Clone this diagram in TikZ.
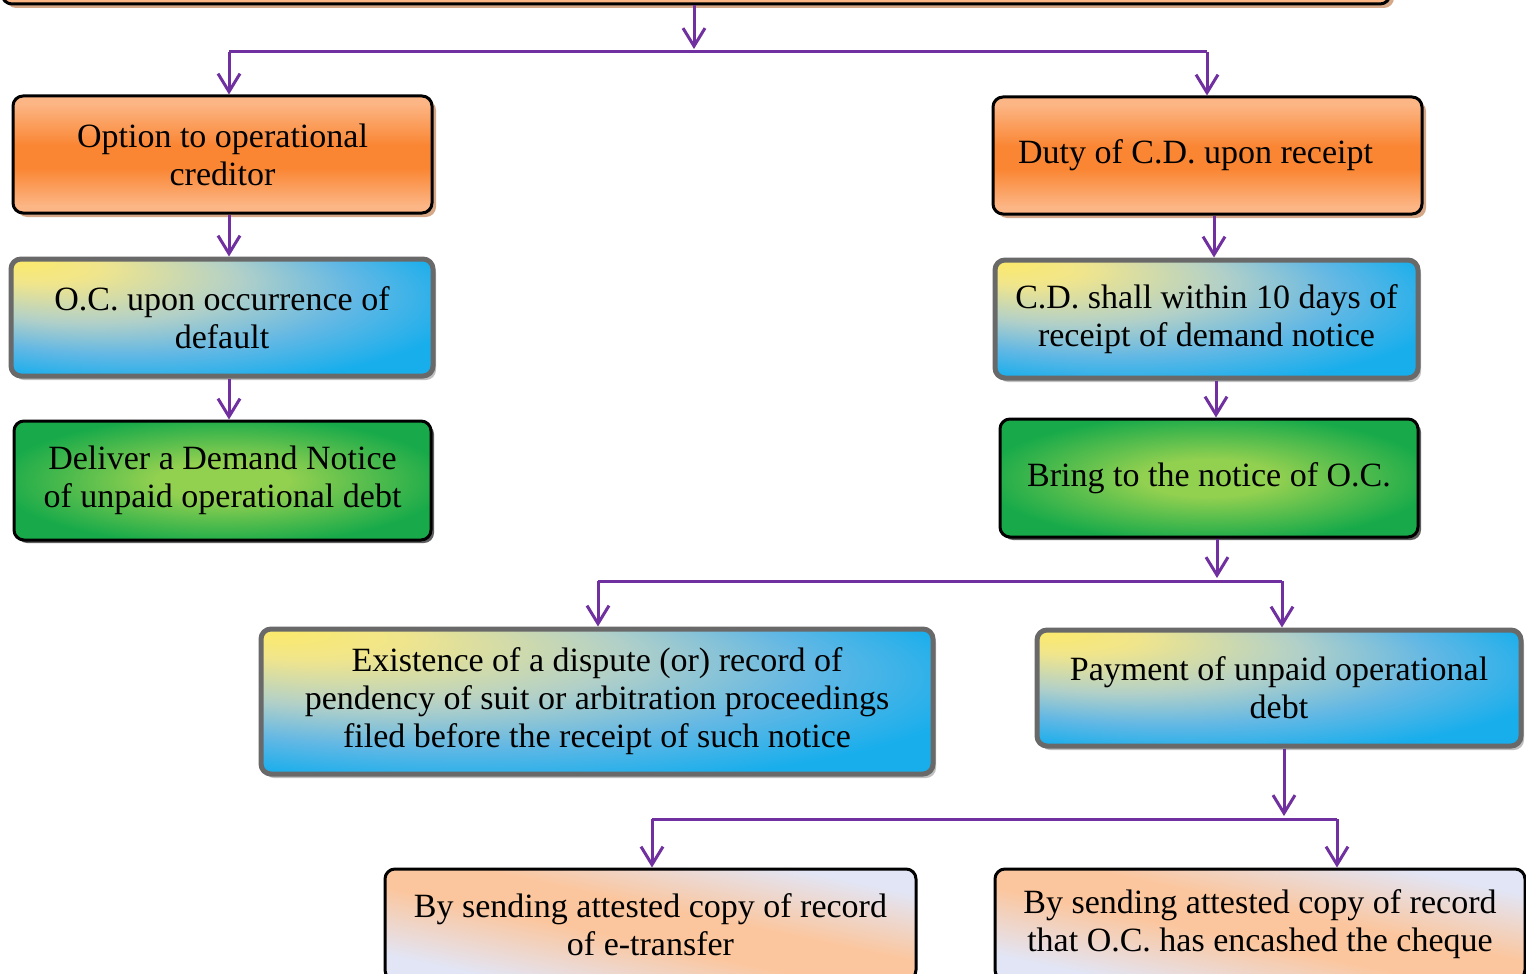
\documentclass[tikz,border=0pt]{standalone}
\usepackage{fontspec}
\setmainfont{Liberation Serif}
\usetikzlibrary{arrows.meta,shadows}

% palette
\definecolor{flowpurple}{RGB}{112,48,160}
\definecolor{orangeLight}{RGB}{252,182,134}
\definecolor{orangeDark}{RGB}{250,134,52}
\definecolor{ybYellow}{RGB}{253,234,105}
\definecolor{ybPale}{RGB}{240,229,140}
\definecolor{ybGrey}{RGB}{178,208,200}
\definecolor{ybSky}{RGB}{100,184,228}
\definecolor{ybBlue}{RGB}{24,174,236}
\definecolor{grLight}{RGB}{146,208,80}
\definecolor{grDark}{RGB}{24,170,74}
\definecolor{peach}{RGB}{251,198,158}
\definecolor{lavender}{RGB}{226,229,245}
\definecolor{frameGrey}{RGB}{105,105,105}
\definecolor{shadowBrown}{RGB}{214,168,135}
\definecolor{shadowLight}{RGB}{192,192,192}
\definecolor{shadowDark}{RGB}{95,95,95}

% fills
\pgfdeclareverticalshading{orangeband}{100bp}{color(0bp)=(orangeLight); color(28bp)=(orangeLight); color(44bp)=(orangeDark); color(54bp)=(orangeDark); color(72bp)=(orangeLight); color(100bp)=(orangeLight)}
\pgfdeclareradialshading{yellowblue}{\pgfpoint{-25bp}{25bp}}{color(0bp)=(ybYellow); color(7bp)=(ybPale); color(18bp)=(ybGrey); color(27bp)=(ybSky); color(36bp)=(ybBlue); color(50bp)=(ybBlue)}
\pgfdeclareradialshading{greenglow}{\pgfpoint{0bp}{0bp}}{color(0bp)=(grLight); color(8bp)=(grLight); color(27bp)=(grDark); color(50bp)=(grDark)}
\pgfdeclarehorizontalshading{peachlav}{100bp}{color(0bp)=(lavender); color(27bp)=(lavender); color(45bp)=(peach); color(55bp)=(peach); color(73bp)=(lavender); color(100bp)=(lavender)}

\tikzset{
  box/.style={rounded corners=5pt, align=center, inner sep=0pt,
    font=\fontsize{17}{19}\selectfont},
  orangebox/.style={box, draw=black, line width=1.5pt, shading=orangeband,
    drop shadow={shadow xshift=2pt, shadow yshift=-2pt, fill=shadowBrown, opacity=1}},
  bluebox/.style={box, draw=frameGrey, line width=2.5pt, shading=yellowblue,
    drop shadow={shadow xshift=1.5pt, shadow yshift=-2pt, fill=shadowLight, opacity=1}},
  greenbox/.style={box, draw=black, line width=1.5pt, shading=greenglow,
    drop shadow={shadow xshift=1.5pt, shadow yshift=-1.5pt, fill=shadowDark, opacity=1}},
  peachbox/.style={box, draw=black, line width=1.5pt, shading=peachlav, shading angle=78},
  link/.style={draw=flowpurple, line width=1.5pt},
  flow/.style={link, -{Straight Barb[length=9pt,width=11pt]}},
}

\begin{document}
\begin{tikzpicture}[x=0.5pt, y=-0.5pt]
\useasboundingbox (0,0) rectangle (1526,974);
\clip (0,0) rectangle (1526,974);

% boxes
\node[orangebox, minimum width=694pt, minimum height=60pt] (top) at (696,-56) {};

\node[orangebox, minimum width=209.5pt, minimum height=58.5pt] (A) at (222.5,154.5)
  {Option to operational\\creditor};
\node[bluebox, minimum width=211pt, minimum height=58.5pt] (B) at (222,317.5)
  {O.C. upon occurrence of\\default};
\node[greenbox, minimum width=208.5pt, minimum height=59.5pt] (C) at (222.5,480.5)
  {Deliver a Demand Notice\\of unpaid operational debt};

\node[orangebox, minimum width=214.5pt, minimum height=58.5pt, text width=189.5pt,
  inner xsep=12.5pt, align=flush left] (D) at (1207.5,155.5)
  {Duty of C.D. upon receipt};
\node[bluebox, minimum width=211.5pt, minimum height=59pt] (E) at (1206.5,319)
  {C.D. shall within 10 days of\\receipt of demand notice};
\node[greenbox, minimum width=209pt, minimum height=59pt] (F) at (1209,478)
  {Bring to the notice of O.C.};

\node[bluebox, minimum width=336pt, minimum height=72.5pt] (G) at (597,701.5)
  {Existence of a dispute (or) record of\\pendency of suit or arbitration proceedings\\filed before the receipt of such notice};
\node[bluebox, minimum width=242pt, minimum height=58pt] (H) at (1279,688)
  {Payment of unpaid operational\\debt};

\node[peachbox, minimum width=265.5pt, minimum height=55.5pt] (I) at (650.5,924.5)
  {By sending attested copy of record\\of e-transfer};
\node[peachbox, minimum width=265pt, minimum height=55.5pt] (J) at (1260,924.5)
  {By sending attested copy of record\\that O.C. has encashed the cheque};

% junction points and connector columns
\coordinate (j1) at (694,52);
\coordinate (aL) at (229,52);
\coordinate (aR) at (1207,52);
\coordinate (dx) at (1214,0);
\coordinate (ex) at (1216,0);
\coordinate (j2) at (1217,581);
\coordinate (gL) at (598,581);
\coordinate (hR) at (1282,581);
\coordinate (j3) at (1284,819);
\coordinate (iL) at (652,819);
\coordinate (jR) at (1337,819);

% connectors
\draw[flow, shorten >=1.5pt] (top.south -| j1) -- (j1);
\draw[link] (aL) -- (aR);
\draw[flow] (aL) -- (aL |- A.north);
\draw[flow] (aR) -- (aR |- D.north);
\draw[flow] (A.south -| aL) -- (B.north -| aL);
\draw[flow] (B.south -| aL) -- (C.north -| aL);

\draw[flow] (D.south -| dx) -- (E.north -| dx);
\draw[flow] (E.south -| ex) -- (F.north -| ex);
\draw[flow, shorten >=1.5pt] (F.south -| j2) -- (j2);
\draw[link] (gL) -- (hR);
\draw[flow] (gL) -- (gL |- G.north);
\draw[flow] (hR) -- (hR |- H.north);

\draw[flow, shorten >=1.5pt] (H.south -| j3) -- (j3);
\draw[link] (iL) -- (jR);
\draw[flow] (iL) -- (iL |- I.north);
\draw[flow] (jR) -- (jR |- J.north);
\end{tikzpicture}
\end{document}
